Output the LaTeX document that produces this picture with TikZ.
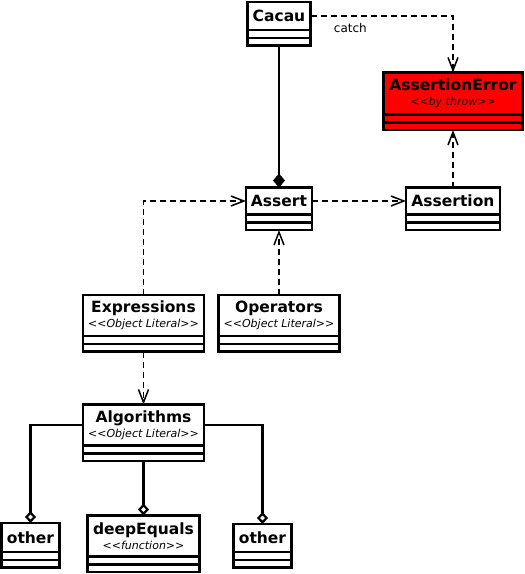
\documentclass[tikz,border=0pt]{standalone}
\usepackage{fontspec}
\newfontfamily\umlfont{DejaVu Sans}
\usetikzlibrary{positioning,arrows.meta}

% class box: [fill]{name}{at}{width}{title height}{text}
\newcommand{\umlclass}[6][white]{%
  \node[cls,fill=#1,minimum width=#4,minimum height=#5] (#2) at #3 {#6};
  \node[comp,fill=#1,minimum width=#4,below=0pt of #2] (#2-a) {};
  \node[comp,fill=#1,minimum width=#4,below=0pt of #2-a] (#2-b) {};
}
\newcommand{\stereo}[1]{\\[-2pt]{\fontsize{11}{12}\selectfont\mdseries\itshape <<#1>>}}

\begin{document}
\begin{tikzpicture}[x=1pt,y=-1pt,
    cls/.style={draw,line width=2.5pt,outer sep=0pt,inner sep=1pt,align=center,
      font=\umlfont\fontsize{15.5}{17}\selectfont\bfseries},
    comp/.style={draw,line width=2.5pt,outer sep=0pt,inner sep=0pt,minimum height=7.75pt},
    dep/.style={line width=1.6pt,dash pattern=on 6pt off 4pt,
      -{Straight Barb[length=13pt,width=10pt,line width=1.5pt]}},
    comp line/.style={line width=2.5pt,-{Diamond[length=14pt,width=12pt]}},
    aggr/.style={line width=2.5pt,-{Diamond[open,fill=white,length=12pt,width=11pt,line width=2.2pt]}}]
  \useasboundingbox (0,0) rectangle (525,574);

  \umlclass{cacau}{(279,16)}{63pt}{28pt}{Cacau}
  \umlclass[red]{asserr}{(453,93.5)}{139pt}{42pt}{AssertionError\stereo{by throw}}
  \umlclass{assert}{(279,201)}{66pt}{27pt}{Assert}
  \umlclass{assertion}{(453,201)}{94pt}{27pt}{Assertion}
  \umlclass{expr}{(143.5,315.5)}{121pt}{41pt}{Expressions\stereo{Object Literal}}
  \umlclass{oper}{(279,315.5)}{121pt}{41pt}{Operators\stereo{Object Literal}}
  \umlclass{algo}{(143.5,425)}{121pt}{41pt}{Algorithms\stereo{Object Literal}}
  \umlclass{otherL}{(30.5,537.5)}{58pt}{29pt}{other}
  \umlclass{deepeq}{(143.5,536)}{112pt}{41pt}{deepEquals\stereo{function}}
  \umlclass{otherR}{(262.5,538)}{58pt}{28pt}{other}

  % dependencies
  \draw[dep] (cacau.east) -| node[pos=0.14,below=3pt,font=\umlfont\fontsize{12}{14}\selectfont]{catch} (asserr.north);
  \draw[dep] (assertion.north) -- (asserr-b.south);
  \draw[dep] (assert.east) -- (assertion.west);
  \draw[dep] (expr.north) |- (assert.west);
  \draw[dep] (oper.north) -- (assert-b.south);
  \draw[dep] (expr-b.south) -- (algo.north);

  % composition / aggregation
  \draw[comp line] (cacau-b.south) -- (assert.north);
  \draw[aggr] (algo.west) -| (otherL.north);
  \draw[aggr] (algo-b.south) -- (deepeq.north);
  \draw[aggr] (algo.east) -| (otherR.north);
\end{tikzpicture}
\end{document}
